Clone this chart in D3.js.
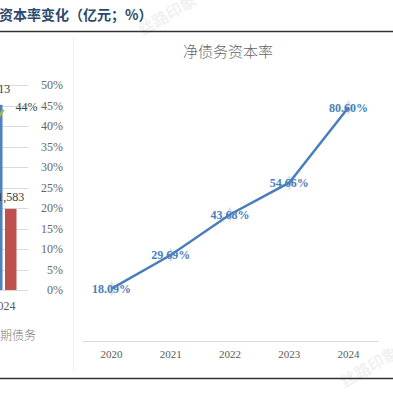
<!DOCTYPE html>
<html>
<head>
<meta charset="utf-8">
<script src="https://cdn.jsdelivr.net/npm/d3@7"></script>
<style>
  html, body { margin: 0; padding: 0; background: #fff; }
  svg { display: block; }
</style>
</head>
<body>
<div id="chart"></div>
<script>
// right chart data
const years = ["2020", "2021", "2022", "2023", "2024"];
const netDebtRatio = [18.09, 29.69, 43.68, 54.66, 80.60];

// left (clipped) chart data, only its last category is visible
const leftCats = ["2024"];
const blueBars = [3613];
const redBars = [1583];
const greenLine = [44];
const leftPctTicks = [0, 5, 10, 15, 20, 25, 30, 35, 40, 45, 50];

const W = 393, H = 393;
const serif = "'Liberation Serif', 'Times New Roman', serif";
const cjk = "'Noto Sans CJK SC', sans-serif";

const svg = d3.select("#chart").append("svg")
  .attr("width", W)
  .attr("height", H);

// page header
svg.append("text")
  .attr("x", -1)
  .attr("y", 20)
  .style("font-family", cjk)
  .style("font-size", "14px")
  .style("font-weight", "bold")
  .style("fill", "#2c4a6b")
  .text("资本率变化（亿元；%）");

svg.append("line")
  .attr("x1", 0).attr("x2", W)
  .attr("y1", 31.5).attr("y2", 31.5)
  .style("stroke", "#333")
  .style("stroke-width", 1.5);

svg.append("line")
  .attr("x1", 0).attr("x2", W)
  .attr("y1", 378.5).attr("y2", 378.5)
  .style("stroke", "#333")
  .style("stroke-width", 1.5);

// faint panel edge
svg.append("line")
  .attr("x1", 73.5).attr("x2", 73.5)
  .attr("y1", 36).attr("y2", 372)
  .style("stroke", "#f0f0f0");

// ---- left chart (mostly off screen) ----
const lx = d3.scaleBand().domain(leftCats).range([-26, 33]);
const lyPct = d3.scaleLinear().domain([0, 50]).range([290, 85]);
const lyAmt = d3.scaleLinear().domain([0, 4000]).range([290, 85]);

const left = svg.append("g");

left.selectAll(".lgrid")
  .data(leftPctTicks)
  .enter().append("line")
  .attr("x1", -40).attr("x2", 28)
  .attr("y1", d => Math.round(lyPct(d)) + 0.5)
  .attr("y2", d => Math.round(lyPct(d)) + 0.5)
  .style("stroke", "#d9d9d9");

const cx = lx("2024") + lx.bandwidth() / 2;
const bw = 11.5;

left.selectAll(".blue")
  .data(blueBars)
  .enter().append("rect")
  .attr("x", cx - 1 - bw)
  .attr("y", d => lyAmt(d))
  .attr("width", bw)
  .attr("height", d => lyAmt(0) - lyAmt(d))
  .style("fill", "#4f81bd");

left.selectAll(".red")
  .data(redBars)
  .enter().append("rect")
  .attr("x", cx + 1.5)
  .attr("y", d => lyAmt(d))
  .attr("width", bw)
  .attr("height", d => lyAmt(0) - lyAmt(d))
  .style("fill", "#c0504d");

left.selectAll(".bluelab")
  .data(blueBars)
  .enter().append("text")
  .attr("x", cx - 1 - bw / 2)
  .attr("y", d => lyAmt(d) - 12)
  .attr("text-anchor", "middle")
  .style("font-family", serif)
  .style("font-size", "12px")
  .style("fill", "#404040")
  .text(d => d3.format(",")(d));

left.selectAll(".redlab")
  .data(redBars)
  .enter().append("text")
  .attr("x", cx + 1.5 + bw / 2)
  .attr("y", d => lyAmt(d) - 8)
  .attr("text-anchor", "middle")
  .style("font-family", serif)
  .style("font-size", "12px")
  .style("fill", "#404040")
  .text(d => d3.format(",")(d));

// green line coming in from the previous year
left.append("line")
  .attr("x1", cx - 14).attr("y1", lyPct(greenLine[0]) + 22)
  .attr("x2", cx).attr("y2", lyPct(greenLine[0]))
  .style("stroke", "#9bbb59")
  .style("stroke-width", 2.5);

left.append("text")
  .attr("x", cx + 12)
  .attr("y", lyPct(greenLine[0]) + 1)
  .style("font-family", serif)
  .style("font-size", "12px")
  .style("fill", "#404040")
  .text(greenLine[0] + "%");

left.append("g")
  .attr("transform", "translate(63,0)")
  .call(d3.axisRight(lyPct).tickValues(leftPctTicks).tickFormat(d => d + "%").tickSize(0).tickPadding(0))
  .call(g => g.select(".domain").remove())
  .call(g => g.selectAll("text")
    .attr("text-anchor", "end")
    .style("font-family", serif)
    .style("font-size", "12px")
    .style("fill", "#666"));

left.append("text")
  .attr("x", cx)
  .attr("y", 310)
  .attr("text-anchor", "middle")
  .style("font-family", serif)
  .style("font-size", "12px")
  .style("fill", "#595959")
  .text(leftCats[0]);

left.append("text")
  .attr("x", -12)
  .attr("y", 340)
  .style("font-family", cjk)
  .style("font-size", "12px")
  .style("font-weight", 300)
  .style("fill", "#7a7a7a")
  .text("短期债务");

// ---- right chart ----
const x = d3.scaleBand().domain(years).range([82, 378]);
const y = d3.scaleLinear().domain([0, 100]).range([341, 51.4]);

svg.append("text")
  .attr("x", 228)
  .attr("y", 57)
  .attr("text-anchor", "middle")
  .style("font-family", cjk)
  .style("font-size", "15px")
  .style("font-weight", 300)
  .style("fill", "#666")
  .text("净债务资本率");

svg.append("g")
  .attr("transform", "translate(0,341)")
  .call(d3.axisBottom(x).tickSize(0).tickPadding(9))
  .call(g => g.select(".domain").style("stroke", "#d9d9d9"))
  .call(g => g.selectAll("text")
    .style("font-family", serif)
    .style("font-size", "11px")
    .style("fill", "#595959"));

const pts = years.map((yr, i) => [x(yr) + x.bandwidth() / 2, y(netDebtRatio[i])]);

svg.selectAll(".mark")
  .data(pts)
  .enter().append("path")
  .attr("transform", d => "translate(" + d[0] + "," + d[1] + ")")
  .attr("d", d3.symbol().type(d3.symbolDiamond).size(70))
  .style("fill", "#dce6f2");

svg.append("path")
  .datum(pts)
  .attr("d", d3.line())
  .style("fill", "none")
  .style("stroke", "#4a7ebb")
  .style("stroke-width", 2.5);

svg.selectAll(".vlab")
  .data(netDebtRatio)
  .enter().append("text")
  .attr("x", (d, i) => pts[i][0])
  .attr("y", (d, i) => pts[i][1] + 4)
  .attr("text-anchor", "middle")
  .style("font-family", serif)
  .style("font-size", "12px")
  .style("font-weight", "bold")
  .style("fill", "#4a7ebb")
  .text(d => d.toFixed(2) + "%");

// faint watermarks
const wm = [[170, 20], [372, 372]];
svg.selectAll(".wm")
  .data(wm)
  .enter().append("text")
  .attr("transform", d => "translate(" + d[0] + "," + d[1] + ") rotate(-30)")
  .attr("text-anchor", "middle")
  .style("font-family", cjk)
  .style("font-size", "16px")
  .style("font-weight", "bold")
  .style("fill", "#000")
  .style("opacity", 0.05)
  .text("丝路印象");
</script>
</body>
</html>
